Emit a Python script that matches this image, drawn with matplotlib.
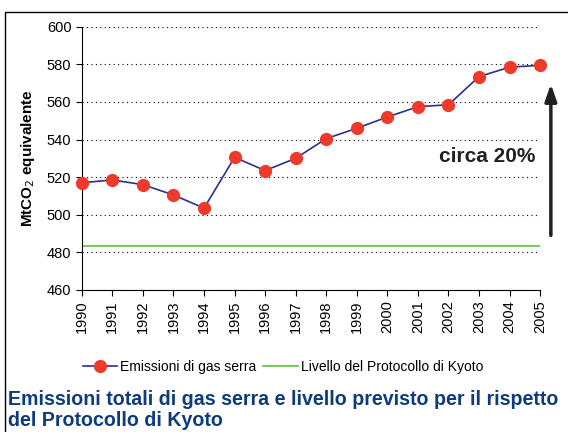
import matplotlib.pyplot as plt
from matplotlib.patches import Rectangle

# data
years = list(range(1990, 2006))
emissions = [517, 518.5, 516, 510.5, 503.5, 530.5, 523.5, 530, 540.5, 546, 552, 557.5, 558.5, 573.5, 578.5, 579.5]
kyoto_level = [483.3] * len(years)
yticks = [460, 480, 500, 520, 540, 560, 580, 600]

plt.rcParams["font.family"] = ["Liberation Sans", "DejaVu Sans"]

fig = plt.figure(figsize=(5.68, 4.32), dpi=100)
ax = fig.add_axes([0.144, 0.329, 0.807, 0.609])

ax.plot(years, emissions, color="#2b2f8f", lw=1.2, marker="o", markersize=8.5,
        markerfacecolor="#ee3a2a", markeredgecolor="#ee3a2a", clip_on=False, zorder=3,
        label="Emissioni di gas serra")
ax.plot(years, kyoto_level, color="#5cc040", lw=1.2, label="Livello del Protocollo di Kyoto")

ax.set_xlim(1990, 2005)
ax.set_ylim(460, 600)
ax.set_yticks(yticks)
ax.set_xticks(years)
ax.set_xticklabels([str(y) for y in years], rotation=90, fontsize=10.5)
ax.tick_params(axis="y", labelsize=10.5, direction="out", length=4)
ax.tick_params(axis="x", direction="out", length=4)
ax.yaxis.grid(True, linestyle=(0, (1, 3)), color="black", lw=0.8)
ax.set_axisbelow(True)
for s in ["top", "right"]:
    ax.spines[s].set_visible(False)

ax.set_ylabel("MtCO$_2$ equivalente", fontsize=11, fontweight="bold")
ax.yaxis.set_label_coords(-0.097, 0.5)

# arrow and annotation
ax.annotate("", xy=(2005.35, 571), xytext=(2005.35, 487.5),
            arrowprops=dict(arrowstyle="-|>,head_width=0.35,head_length=1.0", color="#231f20", lw=2.5),
            annotation_clip=False)
ax.text(2004.85, 531, "circa 20%", fontsize=15, fontweight="bold", color="#231f20",
        ha="right", va="center")

fig.legend(loc="center", bbox_to_anchor=(0.498, 0.15), ncol=2, frameon=False, fontsize=10,
           handlelength=2.5, columnspacing=0.5, handletextpad=0.2)

fig.text(0.014, 0.075, "Emissioni totali di gas serra e livello previsto per il rispetto",
         fontsize=14.1, fontweight="bold", color="#0d3b7c", va="center")
fig.text(0.014, 0.027, "del Protocollo di Kyoto",
         fontsize=14.1, fontweight="bold", color="#0d3b7c", va="center")

fig.add_artist(Rectangle((0.009, -0.01), 1.0, 0.982, transform=fig.transFigure,
                         fill=False, edgecolor="black", lw=1.0))

fig.savefig("out.png", dpi=100)
